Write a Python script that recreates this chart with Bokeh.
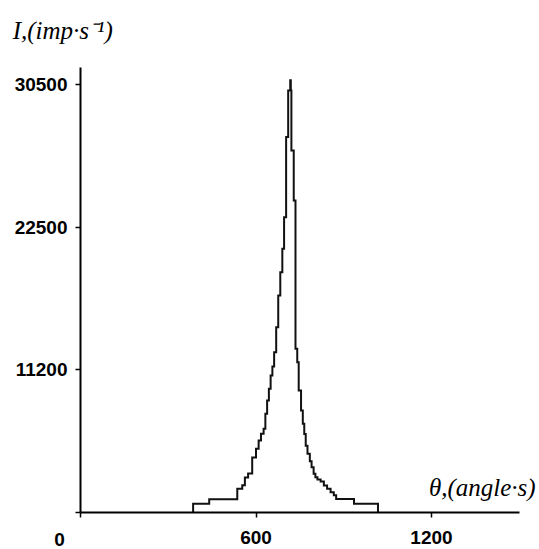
from bokeh.plotting import figure
from bokeh.models import Label, FixedTicker, Range1d
from bokeh.embed import file_html
from bokeh.resources import INLINE

# ---- data ----
theta_edges = [385, 440, 536, 553, 562, 573, 587, 600, 609, 617,
               626, 632, 638, 644, 650, 656, 662, 669, 676, 683,
               690, 696, 703, 710, 717, 719, 721, 729, 735, 741,
               746, 754, 760, 765, 770, 776, 784, 790, 797, 803,
               810, 821, 832, 843, 855, 866, 874, 935, 1017]
intensity = [620, 950, 1690, 1950, 2500, 2780, 3920, 4540, 5130, 5610,
             5960, 7030, 7980, 8820, 9760, 10400, 11420, 13200, 15460, 17120,
             18790, 21040, 26750, 30080, 30800, 30080, 25800, 22230, 11670, 10710,
             8700, 7270, 6320, 5600, 4750, 4180, 3650, 3230, 2760, 2520,
             2350, 2200, 1920, 1690, 1450, 1230, 960, 620, 0]
x_ticks = [0, 600, 1200]
x_axis_end = 1500
y_tick_labels = ["11200", "22500", "30500"]
y_top_tick = 30500
y_axis_end = 31712
x_title = "θ,(angle·s)"
y_title = "I,(imp·s⁻¹)"

assert len(theta_edges) == len(intensity)

W, H = 539, 549
# frame covers the whole canvas; axes are drawn at fixed locations inside it
p = figure(width=W, height=H,
           x_range=Range1d(-273.5, 1569.2), y_range=Range1d(-2637, 36486),
           output_backend="svg", toolbar_location=None,
           min_border_left=0, min_border_right=0,
           min_border_top=0, min_border_bottom=0)
p.xgrid.visible = False
p.ygrid.visible = False
p.outline_line_color = None
p.background_fill_color = "white"
p.border_fill_color = "white"

p.step(x=[theta_edges[0]] + theta_edges, y=[0] + intensity, mode="after",
       line_color="#111111", line_width=2, line_join="miter")

tick_font = "Liberation Sans"
for ax in (p.xaxis[0], p.yaxis[0]):
    ax.fixed_location = 0
    ax.axis_line_color = "black"
    ax.axis_line_width = 2
    ax.major_tick_line_color = "black"
    ax.major_tick_line_width = 1.5
    ax.major_tick_in = 0
    ax.major_tick_out = 5
    ax.minor_tick_line_color = None
    ax.major_label_text_font = tick_font
    ax.major_label_text_font_style = "bold"
    ax.major_label_text_font_size = "19px"
    ax.major_label_text_color = "black"

p.xaxis.bounds = (0, x_axis_end)
p.xaxis.ticker = FixedTicker(ticks=x_ticks)
p.xaxis.major_label_overrides = {0: ""}
p.xaxis.major_label_standoff = 14

y_positions = [round(y_top_tick * (i + 1) / len(y_tick_labels)) for i in range(len(y_tick_labels))]
p.yaxis.bounds = (0, y_axis_end)
p.yaxis.ticker = FixedTicker(ticks=[0] + y_positions)
ov = {0: ""}
for pos, lab in zip(y_positions, y_tick_labels):
    ov[pos] = lab
p.yaxis.major_label_overrides = ov
p.yaxis.major_label_standoff = 8

# origin "0" label, shifted left of the origin as in the reference
p.add_layout(Label(x=-72, y=-1950, text="0", text_align="center", text_baseline="middle",
                   text_font=tick_font, text_font_style="bold",
                   text_font_size="19px", text_color="black"))

# axis titles
p.add_layout(Label(x=-232, y=34347, text=y_title, text_align="left", text_baseline="middle",
                   text_font="Liberation Serif", text_font_style="italic",
                   text_font_size="25px", text_color="black"))
p.add_layout(Label(x=1556, y=1780, text=x_title, text_align="right", text_baseline="middle",
                   text_font="Liberation Serif", text_font_style="italic",
                   text_font_size="25px", text_color="black"))

open("out.html", "w").write(file_html(p, INLINE))
